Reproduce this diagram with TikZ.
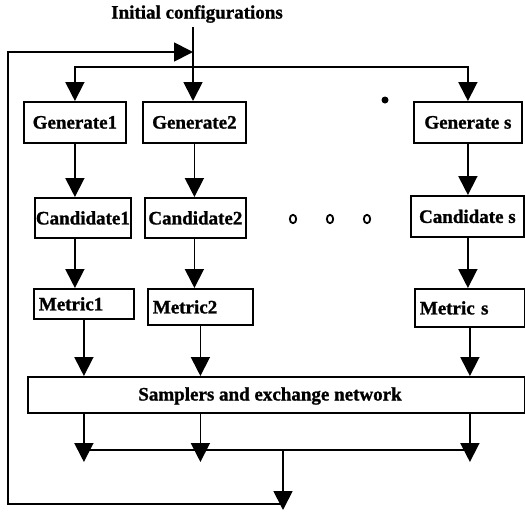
\documentclass[tikz,border=0pt]{standalone}
\usepackage{fontspec}
\setmainfont{Liberation Serif}
\newfontfamily\heavyfont{Liberation Serif Bold}[FakeBold=1.2]
\usetikzlibrary{arrows.meta}
\begin{document}
\begin{tikzpicture}[x=1pt,y=-1pt,line width=1.8pt,
  txt/.style={font=\heavyfont\fontsize{19}{21}\selectfont},
  box/.style={txt,draw,inner sep=0pt,anchor=north west},
  lbox/.style={box,inner xsep=5pt,align=left},
  arr/.style={-{Triangle[length=19pt,width=19pt]}}]
\useasboundingbox (0,0) rectangle (525,512);

\node[txt] (init) at (197,14) {Initial configurations};

\node[box,minimum width=102pt,minimum height=41pt] (g1) at (23,101) {Generate1};
\node[box,minimum width=103pt,minimum height=41pt] (g2) at (142,101) {Generate2};
\node[box,minimum width=108pt,minimum height=41pt] (gs) at (413,101) {Generate s};

\node[box,minimum width=96pt,minimum height=40pt] (c1) at (34,197) {Candidate1};
\node[box,minimum width=101pt,minimum height=40pt] (c2) at (144,197) {Candidate2};
\node[box,minimum width=113pt,minimum height=41pt] (cs) at (410,195) {Candidate s};

\node[lbox,text width=90pt,minimum height=30pt] (m1) at (33,288) {Metric1};
\node[lbox,text width=95pt,minimum height=36pt] (m2) at (147,288) {Metric2};
\node[lbox,text width=100pt,minimum height=38pt] (ms) at (414,288) {Metric s};

\node[box,minimum width=497pt,minimum height=36pt] (S) at (27,376) {};
\node[txt] (Slbl) at (270,396) {Samplers and exchange network};

% distribution from initial configurations
\coordinate (split) at (193,67);
\draw (split |- init.south) -- (split);
\draw[arr] (split) -- (split |- g2.north);
\draw[arr] (split) -| (g1.north);
\draw[arr] (split) -| (gs.north);

% columns
\foreach \g/\c/\m in {g1/c1/m1, g2/c2/m2, gs/cs/ms}{
  \draw[arr] (\g.south) -- (\g.south |- \c.north);
  \draw[arr] (\c.south -| \g.south) -- (\g.south |- \m.north);
  \draw[arr] (\m.south) -- (\m.south |- S.north);
}

% outputs of samplers
\coordinate (bus) at (283,450);
\coordinate (low) at (0,462);
\foreach \m in {m1,m2,ms}{
  \draw[arr] (S.south -| \m.south) -- (low -| \m.south);
}
\draw (bus -| m1.south) -- (bus -| ms.south);

% feedback loop
\coordinate (bottom) at (283,510);
\coordinate (corner) at (283,504);
\coordinate (lbot) at (8,504);
\coordinate (ltop) at (8,52);
\draw[arr] (bus) -- (bottom);
\draw[arr] (corner) -- (lbot) -- (ltop) -- (ltop -| split);

% ellipsis marks
\draw[line width=1.8pt] (293,219) ellipse [x radius=3.2, y radius=4.2];
\draw[line width=1.8pt] (330,219) ellipse [x radius=3.2, y radius=4.2];
\draw[line width=1.8pt] (367,219) ellipse [x radius=3.2, y radius=4.2];
\fill (385,100) circle (3.5);
\end{tikzpicture}
\end{document}
